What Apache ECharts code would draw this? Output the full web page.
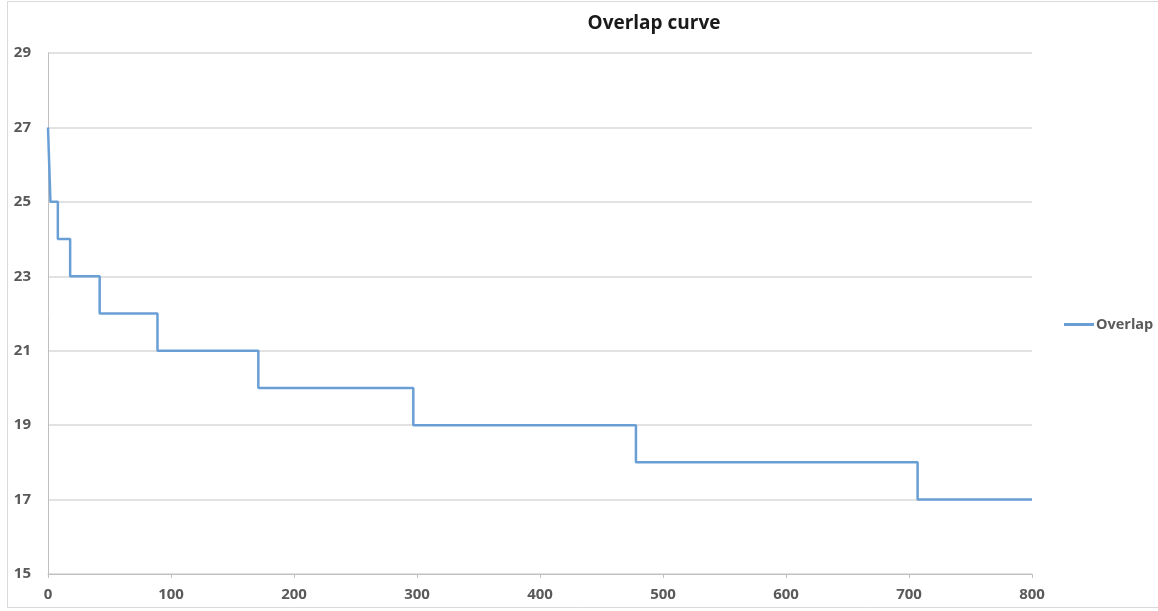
<!DOCTYPE html>
<html><head><meta charset="utf-8">
<script src="https://cdn.jsdelivr.net/npm/echarts@6/dist/echarts.min.js"></script>
<style>html,body{margin:0;padding:0;background:#fff}#c{width:1158px;height:611px}</style>
</head><body><div id="c"></div>
<script>
const stepX = [0, 1, 2, 8, 18, 42, 89, 171, 297, 478, 707, 800];
const overlap = [27, 26, 25, 24, 23, 22, 21, 20, 19, 18, 17, 17];
const seriesName = 'Overlap';
const titleText = 'Overlap curve';

const chart = echarts.init(document.getElementById('c'));
chart.setOption({
  animation: false,
  backgroundColor: '#fff',
  title: {text: titleText, left: 649, top: 9, textAlign: 'center',
    textStyle: {fontFamily: 'Open Sans', fontWeight: 'bold', fontSize: 19, color: '#1a1a1a'}},
  legend: {left: 1064, top: 317, itemWidth: 30, itemHeight: 3, itemGap: 1, padding: 0,
    icon: 'rect', textStyle: {fontFamily: 'Open Sans', fontSize: 14.5, fontWeight: 'bold', color: '#595959', padding: [0, 0, 0, -3]},
    data: [seriesName]},
  grid: {left: 48, right: 126, top: 53, bottom: 37},
  xAxis: {type: 'value', min: 0, max: 800, interval: 100,
    axisLine: {lineStyle: {color: '#bfbfbf'}},
    axisTick: {show: true, length: 4, lineStyle: {color: '#bfbfbf'}},
    splitLine: {show: false},
    axisLabel: {fontFamily: 'Open Sans', fontSize: 15, fontWeight: 'bold', color: '#595959', margin: 13}},
  yAxis: {type: 'value', min: 15, max: 29, interval: 2,
    axisLine: {show: true, lineStyle: {color: '#bfbfbf'}},
    axisTick: {show: false},
    splitLine: {lineStyle: {color: '#d9d9d9', width: 1.5}},
    axisLabel: {fontFamily: 'Open Sans', fontSize: 15, fontWeight: 'bold', color: '#595959', margin: 17}},
  series: [{name: seriesName, type: 'line', step: 'end', showSymbol: false,
    data: stepX.map((x, i) => [x, overlap[i]]),
    lineStyle: {color: '#6a9fd6', width: 2.5}, itemStyle: {color: '#6a9fd6'}}],
  graphic: [{type: 'rect', shape: {x: 7.5, y: 1.5, width: 1160, height: 606},
    style: {fill: 'none', stroke: '#d9d9d9', lineWidth: 1}, silent: true}]
});
</script></body></html>
